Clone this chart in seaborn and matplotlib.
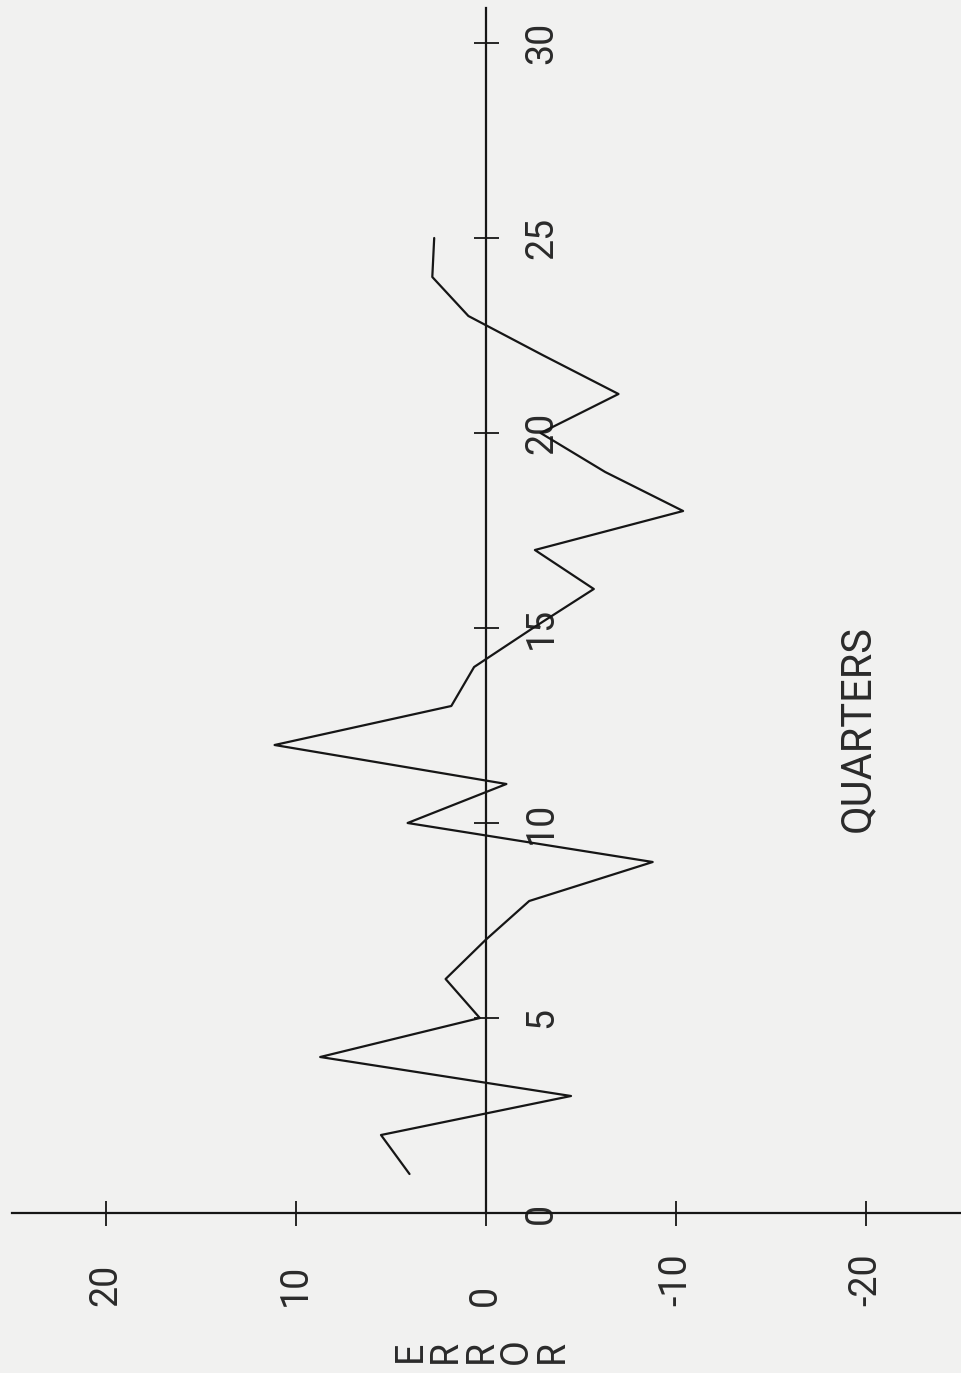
import numpy as np
import pandas as pd
import matplotlib
matplotlib.use("Agg")
import matplotlib.pyplot as plt
import seaborn as sns

# ---- data ----
quarters = list(range(1, 26))
errors = [4.0, 5.5, -4.5, 8.7, 0.3, 2.1, 0.0, -2.3, -8.8, 4.1,
          -1.1, 11.1, 1.8, 0.6, -2.5, -5.7, -2.6, -10.4, -6.3, -2.9,
          -7.0, -3.0, 0.9, 2.8, 2.7]
error_ticks = [20, 10, 0, -10, -20]
error_tick_labels = ["20", "10", "0", "-10", "-20"]
quarter_ticks = [0, 5, 10, 15, 20, 25, 30]
quarter_tick_labels = ["0", "5", "10", "15", "20", "25", "30"]
x_label = "ERROR"
y_label = "QUARTERS"

df = pd.DataFrame({"error": errors, "quarter": quarters})

sns.set_theme(style="white")
plt.rcParams["font.family"] = ["Roboto", "DejaVu Sans"]

BG = "#f1f1f0"
INK = "#161616"
TXT = "#2a2a2a"

fig = plt.figure(figsize=(9.61, 13.73), dpi=100, facecolor=BG)
ax = fig.add_axes([0, 0, 1, 1], facecolor=BG)

sns.lineplot(data=df, x="error", y="quarter", sort=False, estimator=None,
             color=INK, lw=1.6, ax=ax)

# error axis runs horizontally with positive values to the left
ax.set_xlim(485.5 / 19.0, (485.5 - 961) / 19.0)
ax.set_ylim((1213 - 1373) / 39.0, 1213 / 39.0)

for s in ["top", "right"]:
    ax.spines[s].set_visible(False)
ax.spines["left"].set_position(("data", 0))
ax.spines["bottom"].set_position(("data", 0))
ax.spines["left"].set_bounds(0, 30.9)
ax.spines["bottom"].set_bounds(-25.1, 24.9)
for s in ["left", "bottom"]:
    ax.spines[s].set_color(INK)
    ax.spines[s].set_linewidth(1.6)

ax.set_xticks(error_ticks)
ax.set_xticklabels(error_tick_labels, rotation=90, rotation_mode="anchor",
                   ha="left", va="center", fontsize=27, color=TXT,
                   fontweight="normal")
ax.set_yticks(quarter_ticks)
ax.set_yticklabels(quarter_tick_labels, rotation=90, rotation_mode="anchor",
                   ha="center", va="top", fontsize=27, color=TXT,
                   fontweight="normal")

ax.tick_params(axis="x", bottom=True, direction="inout", length=18,
               width=1.3, color=INK, pad=58)
ax.tick_params(axis="y", left=True, direction="inout", length=18,
               width=1.3, color=INK, pad=-36)

ax.set_xlabel("E\nR\nR\nO\nR", rotation=90, fontsize=27, color=TXT,
              linespacing=0.95, ha="center", va="center", fontweight="normal")
ax.xaxis.set_label_coords(481 / 961, 1 - 1351 / 1373)
ax.set_ylabel(y_label, rotation=90, fontsize=30, color=TXT,
              ha="center", va="center", fontweight="normal")
ax.yaxis.set_label_coords(858 / 961, 1 - 728 / 1373)

ax.grid(False)
fig.savefig("out.png", dpi=100, facecolor=BG)
